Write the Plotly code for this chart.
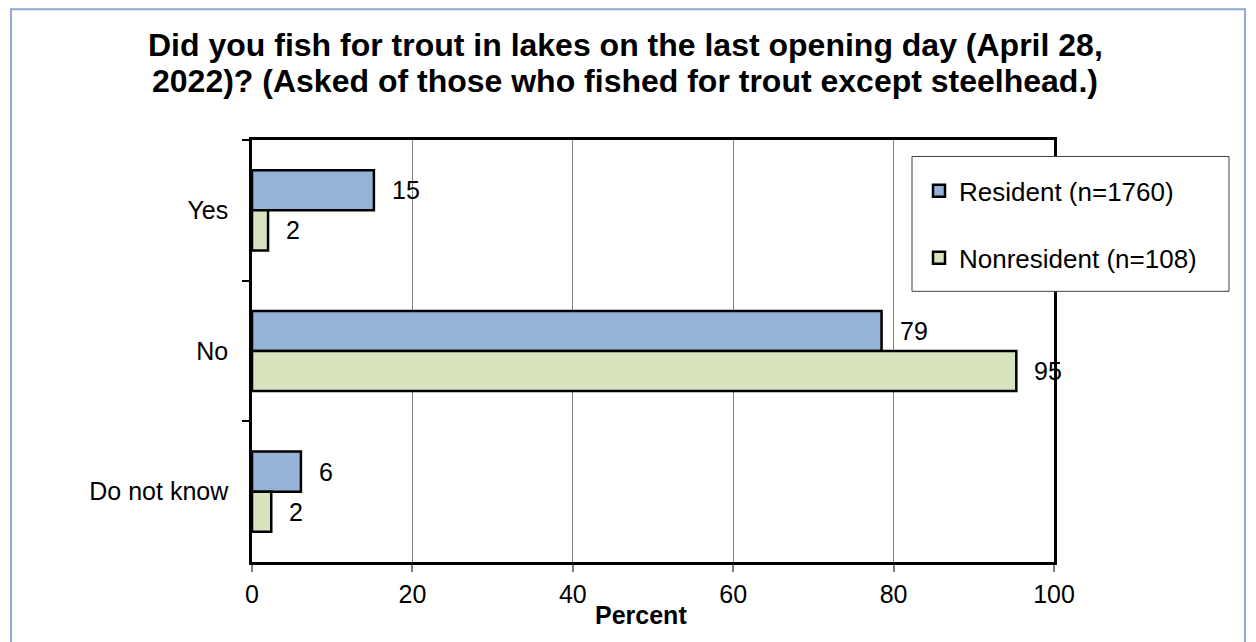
import plotly.graph_objects as go

categories = ["Yes", "No", "Do not know"]
resident = [15.2, 78.5, 6.1]
nonresident = [2.0, 95.3, 2.4]
resident_labels = ["15", "79", "6"]
nonresident_labels = ["2", "95", "2"]
series_names = ["Resident (n=1760)", "Nonresident (n=108)"]
x_ticks = [0, 20, 40, 60, 80, 100]
title_lines = ["Did you fish for trout in lakes on the last opening day (April 28,",
               "2022)? (Asked of those who fished for trout except steelhead.)"]
x_title = "Percent"

FONT = "Liberation Sans, Arial, sans-serif"
W, H = 1240, 634
L, R, T, B = 244, 1046, 131.5, 554
pw, ph = R - L, B - T


def px(xp):
    return (xp - L) / pw


def py(yp):
    return (B - yp) / ph


fig = go.Figure()
fig.add_trace(go.Bar(
    y=categories, x=resident, orientation="h", name=series_names[0],
    marker=dict(color="#95B3D7", line=dict(color="black", width=2.5)),
    legendgroup="a", hoverinfo="skip"))
fig.add_trace(go.Bar(
    y=categories, x=nonresident, orientation="h", name=series_names[1],
    marker=dict(color="#D7E4BD", line=dict(color="black", width=2.5)),
    legendgroup="b", hoverinfo="skip"))

annotations = []
for cat, v, t in zip(categories, resident, resident_labels):
    annotations.append(dict(x=v, y=cat, xref="x", yref="y", text=t, showarrow=False,
                            xanchor="left", yanchor="middle", xshift=16, yshift=20,
                            font=dict(family=FONT, size=25, color="black")))
for cat, v, t in zip(categories, nonresident, nonresident_labels):
    annotations.append(dict(x=v, y=cat, xref="x", yref="y", text=t, showarrow=False,
                            xanchor="left", yanchor="middle", xshift=16, yshift=-20,
                            font=dict(family=FONT, size=25, color="black")))
annotations.append(dict(x=px(632.5), y=py(607), xref="paper", yref="paper",
                        text="<b>" + x_title + "</b>", showarrow=False,
                        xanchor="center", yanchor="middle",
                        font=dict(family=FONT, size=25, color="black")))
for line, yc in zip(title_lines, [36, 72]):
    annotations.append(dict(x=px(617), y=py(yc), xref="paper", yref="paper",
                            text="<b>" + line + "</b>", showarrow=False,
                            xanchor="center", yanchor="middle",
                            font=dict(family=FONT, size=32, color="black")))

fig.update_layout(
    width=W, height=H,
    margin=dict(l=L, r=W - R, t=T, b=H - B, pad=0),
    paper_bgcolor="white", plot_bgcolor="white",
    barmode="group", bargap=0.43, bargroupgap=0,
    font=dict(family=FONT, size=25, color="black"),
    legend=dict(x=px(911), y=py(159), xanchor="left", yanchor="top",
                bgcolor="rgba(0,0,0,0)", borderwidth=0,
                font=dict(family=FONT, size=26, color="black"),
                traceorder="grouped", tracegroupgap=30),
    annotations=annotations,
    shapes=[
        dict(type="rect", xref="paper", yref="paper",
             x0=px(3), x1=px(1237), y0=py(660), y1=py(0.5),
             line=dict(color="#8EA9D4", width=2), fillcolor="rgba(0,0,0,0)", layer="below"),
        dict(type="rect", xref="paper", yref="paper",
             x0=px(904), x1=px(1221), y0=py(283), y1=py(148),
             line=dict(color="#404040", width=1), fillcolor="white", layer="above"),
    ],
)
fig.update_xaxes(range=[0, 100], tickvals=x_ticks, ticks="outside", ticklen=7,
                 tickcolor="#808080", tickwidth=1.5, showgrid=True, gridcolor="#808080", gridwidth=1,
                 showline=True, linecolor="black", linewidth=2.5, mirror=True, zeroline=False,
                 tickfont=dict(family=FONT, size=25, color="black"), ticklabelstandoff=1)
fig.update_yaxes(autorange="reversed", ticks="outside", ticklen=7, tickcolor="black", tickwidth=1.5,
                 tickson="boundaries", showgrid=False, showline=True, linecolor="black",
                 linewidth=2.5, mirror=True, zeroline=False,
                 tickfont=dict(family=FONT, size=25, color="black"), ticklabelstandoff=16)

fig.write_html("out.html")
